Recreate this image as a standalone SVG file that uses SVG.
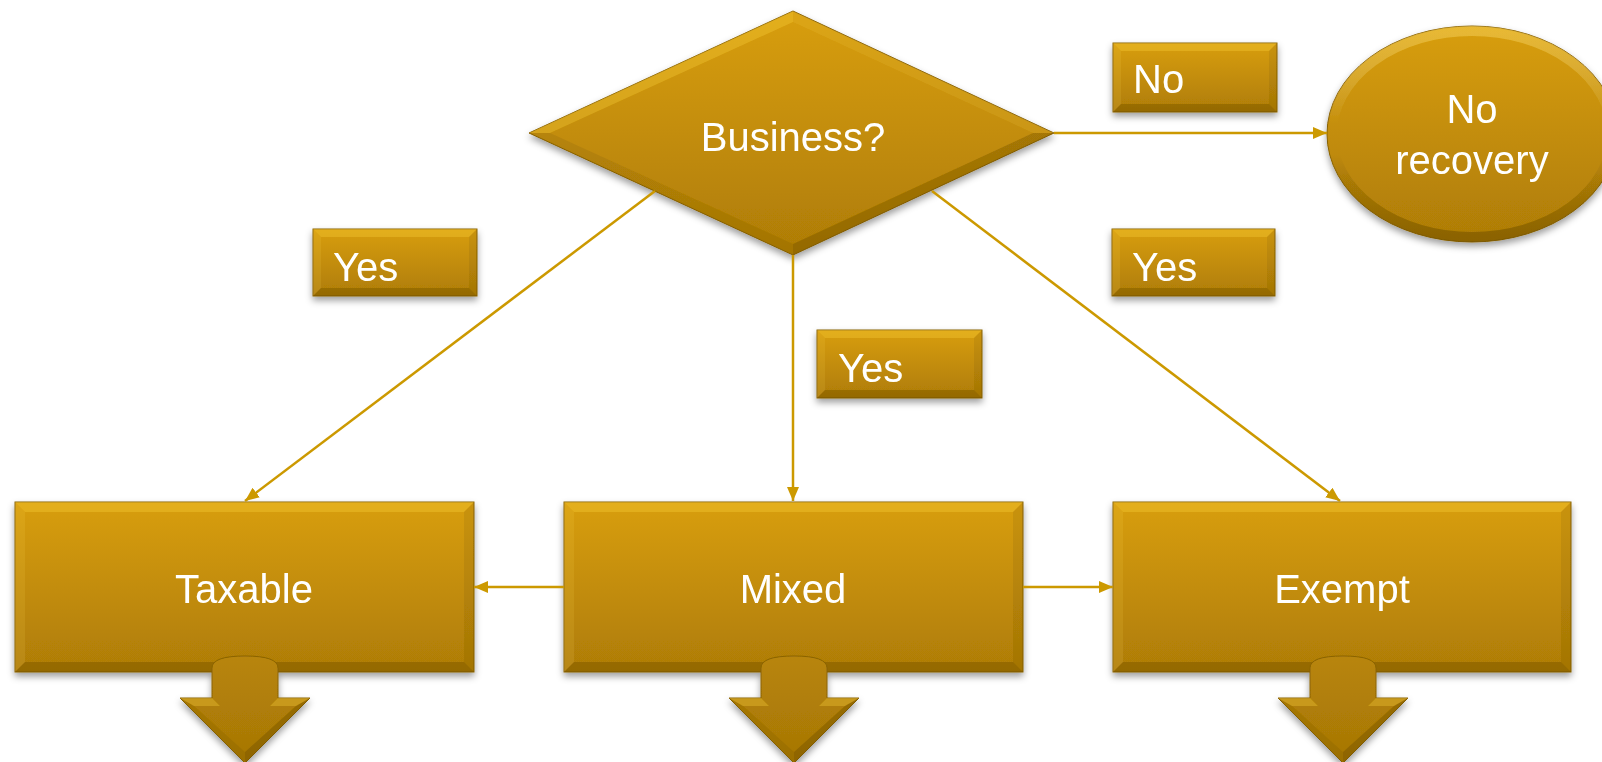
<svg xmlns="http://www.w3.org/2000/svg" width="1602" height="762" viewBox="0 0 1602 762">
  <defs>
    <linearGradient id="gold" x1="0" y1="0" x2="0" y2="1">
      <stop offset="0" stop-color="#D89E0B"/>
      <stop offset="1" stop-color="#AE7C06"/>
    </linearGradient>
    <linearGradient id="goldArrow" x1="0" y1="0" x2="0" y2="1">
      <stop offset="0" stop-color="#B88509"/>
      <stop offset="1" stop-color="#A67605"/>
    </linearGradient>
    <linearGradient id="bevelRing" x1="0" y1="0" x2="0" y2="1">
      <stop offset="0" stop-color="#FFE070" stop-opacity="0.4"/>
      <stop offset="0.45" stop-color="#FFFFFF" stop-opacity="0"/>
      <stop offset="0.6" stop-color="#000000" stop-opacity="0"/>
      <stop offset="1" stop-color="#3A2800" stop-opacity="0.3"/>
    </linearGradient>
    <filter id="shadow" x="-10%" y="-10%" width="120%" height="130%">
      <feDropShadow dx="0" dy="4" stdDeviation="3.5" flood-color="#000" flood-opacity="0.38"/>
    </filter>
    <marker id="arr" markerWidth="14" markerHeight="12" refX="14" refY="6" orient="auto" markerUnits="userSpaceOnUse">
      <path d="M0,0 L14,6 L0,12 Z" fill="#CC9900"/>
    </marker>
  </defs>
  <style>
    .fill { fill: url(#gold); stroke: #8A6306; stroke-width: 1; }
    .afill { fill: url(#goldArrow); stroke: #8A6306; stroke-width: 1; }
    .hl { fill: #FFD848; fill-opacity: 0.3; }
    .hl2 { fill: #FFE070; fill-opacity: 0.12; }
    .dk { fill: #3A2800; fill-opacity: 0.22; }
    .dk2 { fill: #3A2800; fill-opacity: 0.09; }
    .txt { font-family: "Liberation Sans", Arial, sans-serif; font-size: 40px; fill: #FFFFFF; }
    .mid { text-anchor: middle; }
    .conn { stroke: #CC9900; stroke-width: 2.5; fill: none; }
    .node { filter: url(#shadow); }
  </style>

  <!-- Decision node -->
  <g id="node-business" class="node">
    <polygon class="fill" points="793,11 1054,133 793,255 529,133"/>
    <polygon class="hl" points="793,11 529,133 550,133 793,22"/>
    <polygon class="hl2" points="793,11 1054,133 1033,133 793,22"/>
    <polygon class="dk" points="1054,133 793,255 793,244 1033,133"/>
    <polygon class="dk2" points="529,133 793,255 793,244 550,133"/>
    <text class="txt mid" x="793" y="151">Business?</text>
  </g>

  <!-- No recovery terminal -->
  <g id="node-norecovery" class="node">
    <ellipse class="fill" cx="1472" cy="134" rx="145" ry="108"/>
    <ellipse cx="1472" cy="134" rx="140" ry="103" fill="none" stroke="url(#bevelRing)" stroke-width="10"/>
    <text class="txt mid" x="1472" y="123">No</text>
    <text class="txt mid" x="1472" y="174">recovery</text>
  </g>

  <!-- Label: No -->
  <g id="label-no" class="node">
    <rect class="fill" x="1113" y="43" width="164" height="69"/>
    <polygon class="hl" points="1113,43 1277,43 1269,51 1121,51"/>
    <polygon class="hl2" points="1113,43 1121,51 1121,104 1113,112"/>
    <polygon class="dk2" points="1277,43 1277,112 1269,104 1269,51"/>
    <polygon class="dk" points="1113,112 1121,104 1269,104 1277,112"/>
    <text class="txt" x="1133" y="93">No</text>
  </g>

  <!-- Label: Yes (left) -->
  <g id="label-yes-left" class="node">
    <rect class="fill" x="313" y="229" width="164" height="67"/>
    <polygon class="hl" points="313,229 477,229 469,237 321,237"/>
    <polygon class="hl2" points="313,229 321,237 321,288 313,296"/>
    <polygon class="dk2" points="477,229 477,296 469,288 469,237"/>
    <polygon class="dk" points="313,296 321,288 469,288 477,296"/>
    <text class="txt" x="333" y="281">Yes</text>
  </g>

  <!-- Label: Yes (middle) -->
  <g id="label-yes-mid" class="node">
    <rect class="fill" x="817" y="330" width="165" height="68"/>
    <polygon class="hl" points="817,330 982,330 974,338 825,338"/>
    <polygon class="hl2" points="817,330 825,338 825,390 817,398"/>
    <polygon class="dk2" points="982,330 982,398 974,390 974,338"/>
    <polygon class="dk" points="817,398 825,390 974,390 982,398"/>
    <text class="txt" x="838" y="382">Yes</text>
  </g>

  <!-- Label: Yes (right) -->
  <g id="label-yes-right" class="node">
    <rect class="fill" x="1112" y="229" width="163" height="67"/>
    <polygon class="hl" points="1112,229 1275,229 1267,237 1120,237"/>
    <polygon class="hl2" points="1112,229 1120,237 1120,288 1112,296"/>
    <polygon class="dk2" points="1275,229 1275,296 1267,288 1267,237"/>
    <polygon class="dk" points="1112,296 1120,288 1267,288 1275,296"/>
    <text class="txt" x="1132" y="281">Yes</text>
  </g>

  <!-- Taxable -->
  <g id="node-taxable" class="node">
    <rect class="fill" x="15" y="502" width="459" height="170"/>
    <polygon class="hl" points="15,502 474,502 464,512 25,512"/>
    <polygon class="hl2" points="15,502 25,512 25,662 15,672"/>
    <polygon class="dk2" points="474,502 474,672 464,662 464,512"/>
    <polygon class="dk" points="15,672 25,662 464,662 474,672"/>
    <text class="txt mid" x="244" y="603">Taxable</text>
    <path class="afill" d="M212,698 L212,668 Q212,656 245,656 Q278,656 278,668 L278,698 L310,698 L245,763 L180,698 Z"/>
    <polygon class="hl" points="180,698 212,698 220,706 194,706"/>
    <polygon class="hl" points="278,698 310,698 296,706 270,706"/>
    <polygon class="dk2" points="180,698 194,706 245,752 245,763"/>
    <polygon class="dk" points="310,698 296,706 245,752 245,763"/>
  </g>

  <!-- Mixed -->
  <g id="node-mixed" class="node">
    <rect class="fill" x="564" y="502" width="459" height="170"/>
    <polygon class="hl" points="564,502 1023,502 1013,512 574,512"/>
    <polygon class="hl2" points="564,502 574,512 574,662 564,672"/>
    <polygon class="dk2" points="1023,502 1023,672 1013,662 1013,512"/>
    <polygon class="dk" points="564,672 574,662 1013,662 1023,672"/>
    <text class="txt mid" x="793" y="603">Mixed</text>
    <path class="afill" d="M761,698 L761,668 Q761,656 794,656 Q827,656 827,668 L827,698 L859,698 L794,763 L729,698 Z"/>
    <polygon class="hl" points="729,698 761,698 769,706 743,706"/>
    <polygon class="hl" points="827,698 859,698 845,706 819,706"/>
    <polygon class="dk2" points="729,698 743,706 794,752 794,763"/>
    <polygon class="dk" points="859,698 845,706 794,752 794,763"/>
  </g>

  <!-- Exempt -->
  <g id="node-exempt" class="node">
    <rect class="fill" x="1113" y="502" width="458" height="170"/>
    <polygon class="hl" points="1113,502 1571,502 1561,512 1123,512"/>
    <polygon class="hl2" points="1113,502 1123,512 1123,662 1113,672"/>
    <polygon class="dk2" points="1571,502 1571,672 1561,662 1561,512"/>
    <polygon class="dk" points="1113,672 1123,662 1561,662 1571,672"/>
    <text class="txt mid" x="1342" y="603">Exempt</text>
    <path class="afill" d="M1310,698 L1310,668 Q1310,656 1343,656 Q1376,656 1376,668 L1376,698 L1408,698 L1343,763 L1278,698 Z"/>
    <polygon class="hl" points="1278,698 1310,698 1318,706 1292,706"/>
    <polygon class="hl" points="1376,698 1408,698 1394,706 1368,706"/>
    <polygon class="dk2" points="1278,698 1292,706 1343,752 1343,763"/>
    <polygon class="dk" points="1408,698 1394,706 1343,752 1343,763"/>
  </g>

  <!-- Connectors -->
  <g id="connectors">
    <line class="conn" x1="1054" y1="133" x2="1327" y2="133" marker-end="url(#arr)"/>
    <line class="conn" x1="655" y1="191" x2="245" y2="501" marker-end="url(#arr)"/>
    <line class="conn" x1="793" y1="255" x2="793" y2="501" marker-end="url(#arr)"/>
    <line class="conn" x1="932" y1="191" x2="1340" y2="501" marker-end="url(#arr)"/>
    <line class="conn" x1="564" y1="587" x2="474" y2="587" marker-end="url(#arr)"/>
    <line class="conn" x1="1023" y1="587" x2="1113" y2="587" marker-end="url(#arr)"/>
  </g>
</svg>
